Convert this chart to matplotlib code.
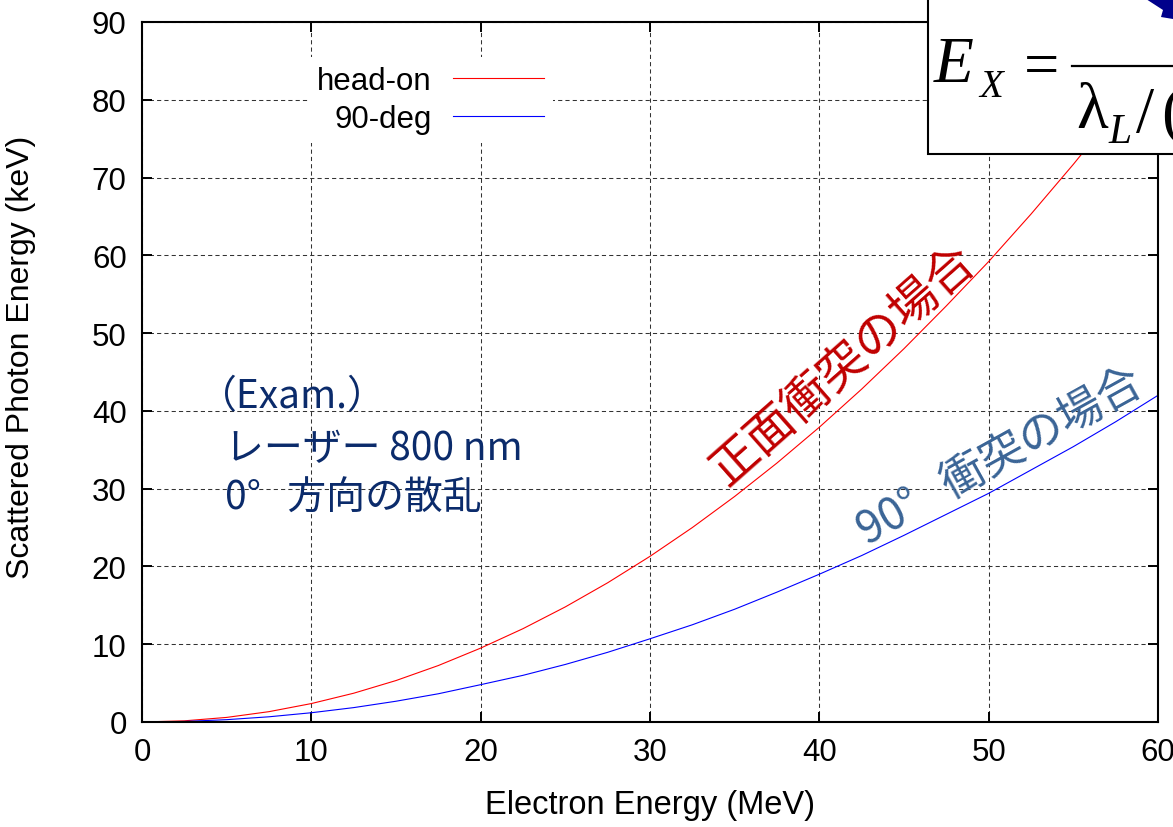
import numpy as np
import matplotlib
matplotlib.use("Agg")
import matplotlib.pyplot as plt
from matplotlib.patches import Rectangle, Polygon
from matplotlib.lines import Line2D

# electron energy (MeV) and scattered photon energy (keV)
electron_mev = [0, 2.5, 5, 7.5, 10, 12.5, 15, 17.5, 20, 22.5, 25, 27.5, 30,
                32.5, 35, 37.5, 40, 42.5, 45, 47.5, 50, 52.5, 55, 57.5, 60]
head_on_kev = [0, 0.15, 0.59, 1.33, 2.37, 3.7, 5.33, 7.26, 9.5, 12.0, 14.8,
               17.9, 21.3, 25.0, 29.0, 33.3, 37.9, 42.8, 48.0, 53.5, 59.2,
               65.3, 71.7, 78.4, 85.3]
deg90_kev = [0, 0.07, 0.3, 0.67, 1.19, 1.85, 2.67, 3.63, 4.8, 6.0, 7.4, 8.96,
             10.7, 12.5, 14.5, 16.7, 19.0, 21.4, 24.0, 26.7, 29.4, 32.4, 35.4,
             38.6, 42.0]

x_ticks = [0, 10, 20, 30, 40, 50, 60]
y_ticks = [0, 10, 20, 30, 40, 50, 60, 70, 80, 90]

W, H = 1173, 828
SANS = "Liberation Sans"
CJK = ["Noto Sans CJK JP", "DejaVu Sans"]


def px(x, y):
    # pixel position (from top-left) -> figure fraction
    return x / W, 1 - y / H


fig = plt.figure(figsize=(W / 100, H / 100), dpi=100)
ax = fig.add_axes([142 / W, 105 / H, 1016 / W, 700 / H])

ax.plot(electron_mev, head_on_kev, color="#ff0000", lw=0.8, label="head-on")
ax.plot(electron_mev, deg90_kev, color="#0000ff", lw=0.8, label="90-deg")

ax.set_xlim(0, 60)
ax.set_ylim(0, 90)
ax.set_xticks(x_ticks)
ax.set_yticks(y_ticks)
ax.tick_params(direction="in", length=7, width=1.4, top=True, right=True,
               labelsize=22.5, pad=11)
for lab in ax.get_xticklabels() + ax.get_yticklabels():
    lab.set_family(SANS)
for s in ax.spines.values():
    s.set_linewidth(1.5)
ax.grid(True, color="#333333", lw=0.75, dashes=(4, 3))

ax.set_xlabel("Electron Energy (MeV)", family=SANS, fontsize=23.5)
ax.set_ylabel("Scattered Photon Energy (keV)", family=SANS, fontsize=23)
ax.xaxis.set_label_coords(0.5, -0.096)
ax.yaxis.set_label_coords(-0.104, 0.523)

leg = ax.legend(loc="upper left", bbox_to_anchor=(0.163, 0.95),
                markerfirst=False, fancybox=False, framealpha=1,
                edgecolor="none", facecolor="white",
                prop={"family": SANS, "size": 22.5},
                handlelength=2.9, handletextpad=0.7, labelspacing=0.24,
                borderpad=0.3, borderaxespad=0)

# example text block
navy = "#0b2b6b"
ax.text(3.3, 40.5, "（Exam.）", family=CJK, fontsize=28, color=navy)
ax.text(4.9, 33.8, "レーザー 800 nm", family=CJK, fontsize=28, color=navy)
ax.text(4.9, 27.4, "0°   方向の散乱", family=CJK, fontsize=28, color=navy)

# curve annotations
ax.text(34.5, 30.4, "正面衝突の場合", family=CJK, fontsize=34.5, color="#c00000",
        rotation=41.5, rotation_mode="anchor", ha="left", va="baseline")
ax.text(42.8, 22.9, "90°   衝突の場合", family=CJK, fontsize=32,
        color="#3a6496", rotation=29, rotation_mode="anchor", ha="left",
        va="baseline")

# formula box overlapping the top-right corner
x0, y0 = px(928, 155)
box = Rectangle((x0, y0), 1.1 - x0, 1.1 - y0, transform=fig.transFigure,
                facecolor="white", edgecolor="black", lw=1.5, zorder=5)
fig.add_artist(box)
serif = "Liberation Serif"
fig.text(*px(934, 82), "E", family=serif, style="italic", fontsize=47,
         zorder=6, va="baseline")
fig.text(*px(979, 97), "X", family=serif, style="italic", fontsize=28,
         zorder=6, va="baseline")
fig.text(*px(1024, 85), "=", family=serif, fontsize=45, zorder=6,
         va="baseline")
fig.add_artist(Line2D([1072 / W, 1.05], [1 - 67 / H] * 2,
                      transform=fig.transFigure, color="black", lw=1.6,
                      zorder=6))
fig.text(*px(1076, 128), "λ", family=serif, fontsize=47, zorder=6,
         va="baseline")
fig.text(*px(1108, 143), "L", family=serif, style="italic", fontsize=30,
         zorder=6, va="baseline")
fig.text(*px(1136, 132), "/", family=serif, fontsize=47, zorder=6,
         va="baseline")
fig.text(*px(1161, 132), "(", family=serif, fontsize=47, zorder=6,
         va="baseline")

# piece of a blue arrow peeking in from the top right
arrow = Polygon([px(1146, 0), px(1173, 0), px(1173, 20), px(1161, 18),
                 px(1163, 11)], closed=True, transform=fig.transFigure,
                facecolor="#00008b", edgecolor="none", zorder=6)
fig.add_artist(arrow)

fig.savefig("out.png", dpi=100)
